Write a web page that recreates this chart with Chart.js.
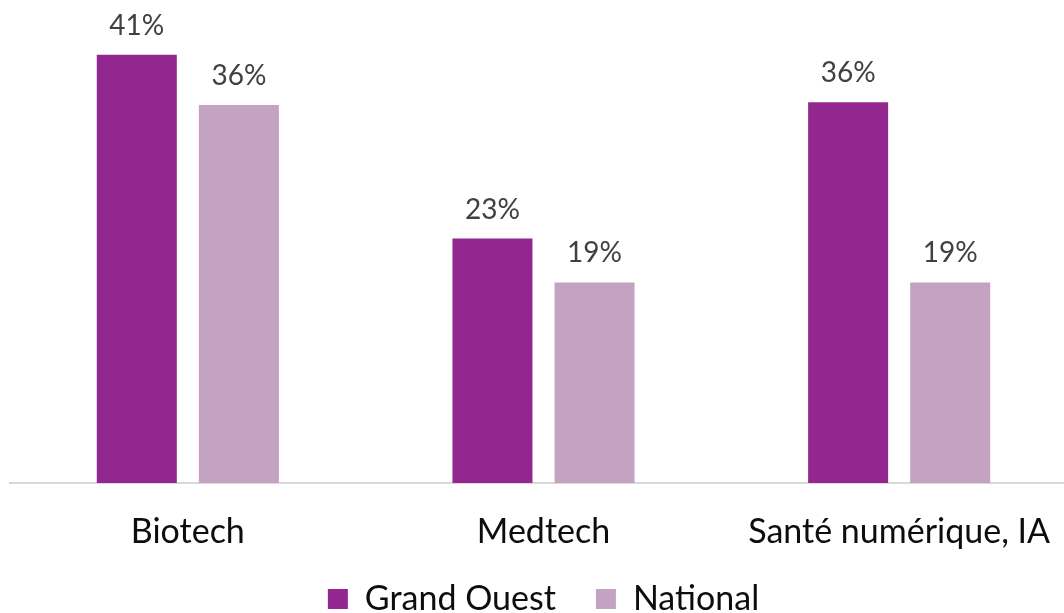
<!DOCTYPE html>
<html>
<head>
<meta charset="utf-8">
<script src="https://cdn.jsdelivr.net/npm/chart.js@4/dist/chart.umd.min.js"></script>
<style>
  html, body { margin: 0; padding: 0; overflow: hidden; background: #fff; }
  #wrap { width: 1077px; height: 626px; position: relative; }
</style>
</head>
<body>
<div id="wrap"><canvas id="chart"></canvas></div>
<script>
var categories = ["Biotech", "Medtech", "Santé numérique, IA"];
var grandOuest = [41, 23.4, 36.45];
var national = [36.2, 19.2, 19.2];
var seriesNames = ["Grand Ouest", "National"];

// % labels above the bars, and the category names under the axis
var textLabels = {
  id: "textLabels",
  afterDraw: function (chart) {
    var ctx = chart.ctx;
    var xScale = chart.scales.x;
    ctx.save();
    ctx.textAlign = "center";
    ctx.textBaseline = "alphabetic";
    ctx.font = "28px Lato";
    ctx.fillStyle = "#404040";
    chart.data.datasets.forEach(function (ds, i) {
      chart.getDatasetMeta(i).data.forEach(function (bar, j) {
        ctx.fillText(Math.round(ds.data[j]) + "%", bar.x, bar.y - 20);
      });
    });
    ctx.font = "34px Lato";
    ctx.fillStyle = "#0D0D0D";
    categories.forEach(function (c, k) {
      ctx.fillText(c, xScale.getPixelForTick(k), xScale.top + 60);
    });
    ctx.restore();
  }
};

var ctx = document.getElementById("chart").getContext("2d");
new Chart(ctx, {
  type: "bar",
  data: {
    labels: categories,
    datasets: [{
      label: seriesNames[0],
      data: grandOuest,
      backgroundColor: "#92278F",
      categoryPercentage: 0.574,
      barPercentage: 0.784
    }, {
      label: seriesNames[1],
      data: national,
      backgroundColor: "#C4A2C2",
      categoryPercentage: 0.574,
      barPercentage: 0.784
    }]
  },
  options: {
    responsive: true,
    maintainAspectRatio: false,
    animation: false,
    layout: { padding: { left: 10, right: 0, top: 13, bottom: 0 } },
    scales: {
      x: {
        grid: { display: false, drawTicks: false },
        border: { display: true, color: "#D9D9D9", width: 2 },
        ticks: { display: false },
        afterFit: function (scale) { scale.height = 59; }
      },
      y: {
        display: false,
        min: 0,
        max: 45
      }
    },
    plugins: {
      legend: {
        position: "bottom",
        labels: {
          boxWidth: 20,
          boxHeight: 20,
          padding: 40,
          color: "#0D0D0D",
          font: { family: "Lato", size: 34 }
        }
      },
      tooltip: { enabled: false }
    }
  },
  plugins: [textLabels]
});
</script>
</body>
</html>
